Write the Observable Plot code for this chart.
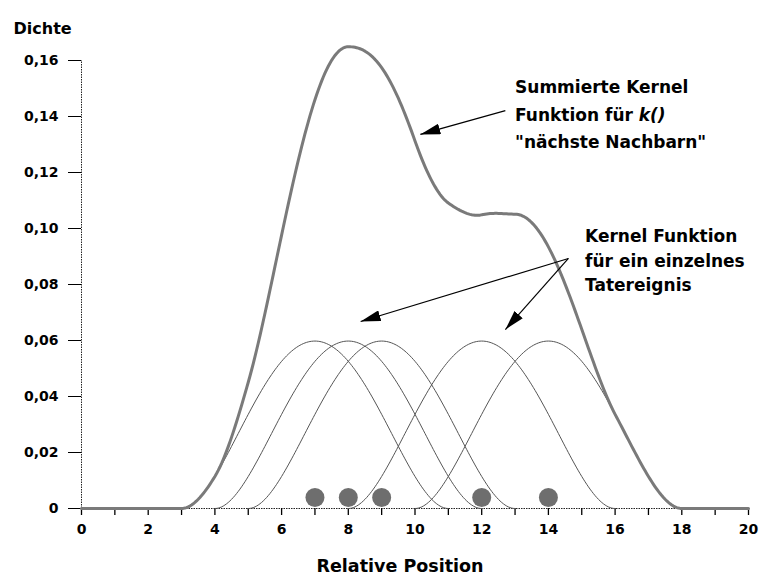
<!DOCTYPE html>
<html>
<head>
<meta charset="utf-8">
<script src="https://cdn.jsdelivr.net/npm/d3@7"></script>
<script src="https://cdn.jsdelivr.net/npm/@observablehq/plot@0.6"></script>
<style>
  html, body { margin: 0; padding: 0; background: #fff; }
  svg { font-family: "DejaVu Sans", sans-serif; }
</style>
</head>
<body>
<div id="chart"></div>
<script>
// --- Data ---
const events = [7, 8, 9, 12, 14];          // positions of single events (dots)
const kernelPeak = 0.0598;                  // peak height of each single kernel
const bandwidth = 4;                        // kernel half-width (support c±4)
const dotHeight = 0.0039;                   // vertical position of event dots
const xTicks = [0,1,2,3,4,5,6,7,8,9,10,11,12,13,14,15,16,17,18,19,20];
const xLabels = [0,2,4,6,8,10,12,14,16,18,20];
const yTicks = [0,0.02,0.04,0.06,0.08,0.10,0.12,0.14,0.16];

// quartic (biweight) kernel, as drawn
const k = u => Math.abs(u) >= 1 ? 0 : kernelPeak * (1 - u*u) ** 2;
const step = 0.05;
const kernels = [];
for (const c of events) {
  for (let x = c - bandwidth; x <= c + bandwidth + 1e-9; x += step) {
    kernels.push({event: c, x, y: k((x - c) / bandwidth)});
  }
}
const sum = [];
for (let x = 0; x <= 20 + 1e-9; x += step) {
  sum.push({x, y: d3.sum(events, c => k((x - c) / bandwidth))});
}

// annotations (data coordinates)
const notes = [
  {x: 13.0, y: 0.1504, text: "Summierte Kernel"},
  {x: 13.0, y: 0.1404, text: "Funktion für k()"},
  {x: 13.0, y: 0.1307, text: "\"nächste Nachbarn\""},
  {x: 15.1, y: 0.0971, text: "Kernel Funktion"},
  {x: 15.1, y: 0.0882, text: "für ein einzelnes"},
  {x: 15.1, y: 0.0796, text: "Tatereignis"}
];
const arrows = [
  {x1: 12.71, y1: 0.1421, x2: 10.16, y2: 0.1336},
  {x1: 14.60, y1: 0.0893, x2: 8.37, y2: 0.0668},
  {x1: 14.60, y1: 0.0893, x2: 12.71, y2: 0.0639}
];

const fmtY = d => d === 0 ? "0" : d.toFixed(2).replace(".", ",");

const chart = Plot.plot({
  width: 776,
  height: 577,
  marginLeft: 81,
  marginRight: 28,
  marginTop: 60,
  marginBottom: 69,
  style: {fontFamily: "DejaVu Sans", background: "#fff"},
  x: {type: "linear", domain: [0, 20]},
  y: {type: "linear", domain: [0, 0.16]},
  marks: [
    Plot.ruleY([0], {x1: 0, x2: 20, stroke: "#222", strokeDasharray: "1.5,1"}),
    Plot.ruleX([0], {y1: 0, y2: 0.16, stroke: "#222", strokeDasharray: "1.5,1"}),
    Plot.axisX({ticks: xTicks, tickSize: 7, tickPadding: 9, tickFormat: d => xLabels.includes(d) ? String(d) : "",
      fontSize: 14, fontWeight: "bold", fill: "#000", stroke: "#000", strokeWidth: 1.3, label: null}),
    Plot.axisY({ticks: yTicks, tickSize: 13, tickPadding: 10, tickFormat: fmtY,
      fontSize: 14, fontWeight: "bold", fill: "#000", stroke: "#000", label: null}),
    Plot.line(kernels, {x: "x", y: "y", z: "event", stroke: "#555", strokeWidth: 1}),
    Plot.line(sum, {x: "x", y: "y", stroke: "#7a7a7a", strokeWidth: 3}),
    Plot.dot(events, {x: d => d, y: () => dotHeight, r: 9.5, fill: "#6e6e6e", stroke: null}),
    Plot.link(arrows, {x1: "x1", y1: "y1", x2: "x2", y2: "y2", stroke: "#000", strokeWidth: 1.2}),
    Plot.text(notes, {x: "x", y: "y", text: "text", textAnchor: "start", lineAnchor: "middle",
      fontSize: 17, fontWeight: "bold", fill: "#000"}),
    Plot.text(["Dichte"], {frameAnchor: "top-left", dx: -68, dy: -38, textAnchor: "start",
      fontSize: 16, fontWeight: "bold", fill: "#000"}),
    Plot.text(["Relative Position"], {frameAnchor: "bottom", dx: -15, dy: 63,
      fontSize: 17.5, fontWeight: "bold", fill: "#000"})
  ]
});

// filled arrowheads
const ns = "http://www.w3.org/2000/svg";
const defs = document.createElementNS(ns, "defs");
defs.innerHTML = '<marker id="ahead" viewBox="0 0 20 11" refX="20" refY="5.5" markerWidth="20" markerHeight="11" markerUnits="userSpaceOnUse" orient="auto"><path d="M0,0 L20,5.5 L0,11 Z" fill="#000"/></marker>';
chart.insertBefore(defs, chart.firstChild);
chart.querySelectorAll('g[aria-label="link"] path').forEach(p => p.setAttribute("marker-end", "url(#ahead)"));

// italic k()
chart.querySelectorAll('g[aria-label="text"] text').forEach(t => {
  if (t.textContent === "Funktion für k()") {
    t.innerHTML = 'Funktion für <tspan font-style="italic">k()</tspan>';
  }
});

document.getElementById("chart").appendChild(chart);
</script>
</body>
</html>
